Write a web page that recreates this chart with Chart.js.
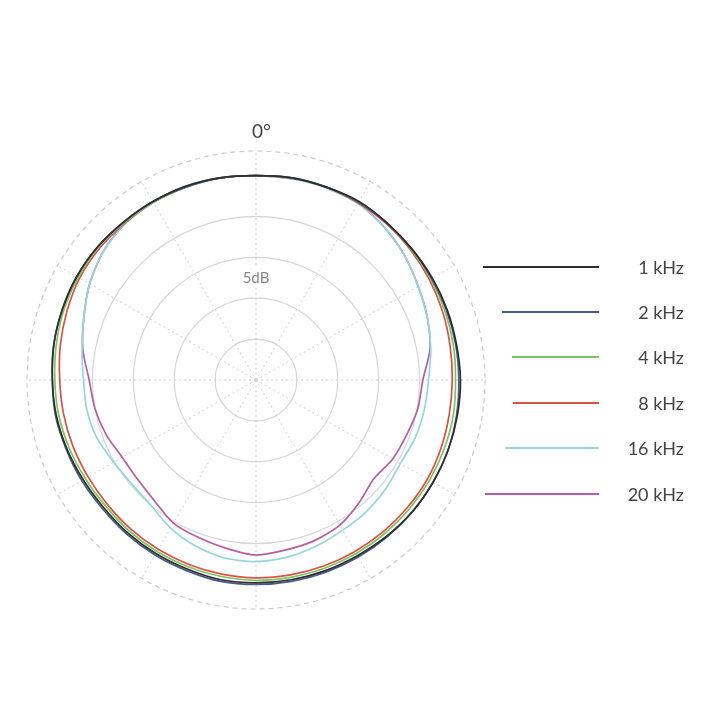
<!DOCTYPE html>
<html>
<head>
<meta charset="utf-8">
<script src="https://cdn.jsdelivr.net/npm/chart.js@4.4.1/dist/chart.umd.min.js"></script>
<style>
html, body { margin: 0; padding: 0; background: #ffffff; }
#wrap { position: relative; width: 720px; height: 720px; overflow: hidden; font-family: Lato, "Open Sans", sans-serif; }
#c { position: absolute; left: 0; top: 0; }
#zero { position: absolute; left: 252px; top: 121px; font-size: 19px; line-height: 19px; color: #444; white-space: nowrap; }
.lg-line { position: absolute; height: 0; border-top-width: 2px; border-top-style: solid; }
.lg-text { position: absolute; right: 36px; font-size: 18px; line-height: 20px; color: #444; white-space: nowrap; text-align: right; }
</style>
</head>
<body>
<div id="wrap">
  <canvas id="c" width="720" height="720"></canvas>
  <div id="zero">0°</div>
  <div id="legend"></div>
</div>
<script>
// ---- DATA (relative level in dB, angle clockwise from 0° on-axis) ----
const angles = ['0°','10°','20°','30°','40°','50°','60°','70°','80°','90°','100°','110°',
                '120°','130°','140°','150°','160°','170°','180°','190°','200°','210°','220°','230°',
                '240°','250°','260°','270°','280°','290°','300°','310°','320°','330°','340°','350°'];
const seriesNames = ['1 kHz', '2 kHz', '4 kHz', '8 kHz', '16 kHz', '20 kHz'];
const khz1  = [0,0.1,0.1,0.2,0,-0.1,-0.1,-0.1,-0.1,0,0,0,0,0,-0.1,-0.2,-0.2,-0.2,-0.2,-0.2,-0.4,-0.5,-0.6,-0.7,-0.6,-0.4,-0.2,-0.1,0.1,0.2,0.3,0.3,0.2,0.2,0.2,0.1];
const khz2  = [0,0.1,0.1,0.1,0,-0.1,-0.2,-0.2,-0.2,-0.2,-0.1,0,0,0,0,0,0,0,0,0,-0.2,-0.3,-0.4,-0.5,-0.4,-0.3,-0.1,-0.1,0.1,0.2,0.3,0.3,0.2,0.2,0.1,0.1];
const khz4  = [0,0.1,0.1,0.1,0,-0.2,-0.3,-0.4,-0.5,-0.6,-0.5,-0.5,-0.5,-0.5,-0.5,-0.5,-0.5,-0.5,-0.5,-0.6,-0.7,-0.8,-0.9,-1.0,-0.9,-0.7,-0.5,-0.4,-0.2,0,0.1,0.2,0.1,0.1,0.1,0.1];
const khz8  = [0,0.1,0.1,0,-0.1,-0.3,-0.5,-0.7,-0.9,-1.0,-1.0,-0.9,-0.8,-0.8,-0.8,-0.8,-0.8,-0.8,-0.8,-0.9,-1.0,-1.1,-1.2,-1.3,-1.3,-1.2,-1.1,-1.0,-0.7,-0.4,-0.1,0,0,0.1,0.1,0.1];
const khz16 = [0,0,0,-0.1,-0.6,-1.3,-2.1,-2.7,-3.3,-3.9,-4.1,-4.3,-4.6,-4.3,-4.0,-3.8,-3.4,-3.0,-2.8,-2.9,-3.4,-4.1,-5.0,-5.2,-4.9,-4.3,-4.0,-3.9,-3.4,-2.6,-1.5,-0.6,-0.1,0.1,0.2,0.1];
const khz20 = [0,0,0.1,0,-0.6,-1.3,-2.1,-2.7,-3.4,-4.6,-4.9,-5.4,-5.7,-6.2,-5.4,-4.5,-4.1,-3.9,-3.6,-4.1,-4.5,-4.8,-5.7,-6.1,-6.1,-5.5,-5.0,-4.6,-3.5,-2.6,-1.5,-0.6,0,0.1,0.2,0.1];
const ringValues = [-20, -15, -10, -5];   // solid grid rings (dB)
const scaleMin = -25;
const scaleMax = 3;                        // dashed outer ring
const ringLabelValue = -12.5;
const ringLabelText = '5dB';

// ---- STYLE ----
const colors = ['#2f2f2f', '#4b5a8c', '#7dc463', '#db5145', '#95d6df', '#b45ea4'];
const legendLineStart = [483, 502, 512, 513, 505, 485];
const legendLineEnd = 599;
const legendTop = 266.5, legendGap = 45.4;

const allSeries = [khz1, khz2, khz4, khz8, khz16, khz20];

Chart.defaults.font.family = 'Lato, "Open Sans", sans-serif';

const chart = new Chart(document.getElementById('c'), {
  type: 'radar',
  data: {
    labels: angles,
    datasets: allSeries.map((d, i) => ({
      label: seriesNames[i],
      data: d,
      borderColor: colors[i],
      borderWidth: 1.7,
      fill: false,
      pointRadius: 0,
      pointHoverRadius: 0,
      tension: 0.25
    }))
  },
  options: {
    responsive: false,
    animation: false,
    devicePixelRatio: 1,
    layout: { padding: { left: 18, right: 225, top: 142, bottom: 101 } },
    plugins: { legend: { display: false }, tooltip: { enabled: false }, title: { display: false } },
    scales: {
      r: {
        min: scaleMin,
        max: scaleMax,
        startAngle: 0,
        pointLabels: { display: false },
        angleLines: {
          display: true,
          color: c => (c.index % 3 === 0 ? '#cdcdcd' : 'rgba(0,0,0,0)'),
          lineWidth: 1,
          borderDash: [2, 3]
        },
        grid: {
          circular: true,
          lineWidth: 1.2,
          color: c => {
            const v = c.tick ? c.tick.value : null;
            if (v === scaleMax) return '#cccccc';
            return ringValues.includes(v) ? '#d6d6d6' : 'rgba(0,0,0,0)';
          }
        },
        border: {
          dash: c => (c.tick && c.tick.value === scaleMax ? [5, 4] : [])
        },
        ticks: {
          stepSize: 2.5,
          color: '#888888',
          font: { size: 15 },
          backdropColor: '#ffffff',
          backdropPadding: 2,
          showLabelBackdrop: c => !!(c.tick && c.tick.value === ringLabelValue),
          callback: v => (v === ringLabelValue ? ringLabelText : '')
        }
      }
    }
  }
});

// ---- HTML legend built from the chart datasets ----
const lg = document.getElementById('legend');
chart.data.datasets.forEach((ds, i) => {
  const y = legendTop + i * legendGap;
  const line = document.createElement('div');
  line.className = 'lg-line';
  line.style.left = legendLineStart[i] + 'px';
  line.style.width = (legendLineEnd - legendLineStart[i]) + 'px';
  line.style.top = (y - 1) + 'px';
  line.style.borderTopColor = ds.borderColor;
  lg.appendChild(line);
  const t = document.createElement('div');
  t.className = 'lg-text';
  t.style.top = (y - 10) + 'px';
  t.textContent = ds.label;
  lg.appendChild(t);
});
</script>
</body>
</html>
